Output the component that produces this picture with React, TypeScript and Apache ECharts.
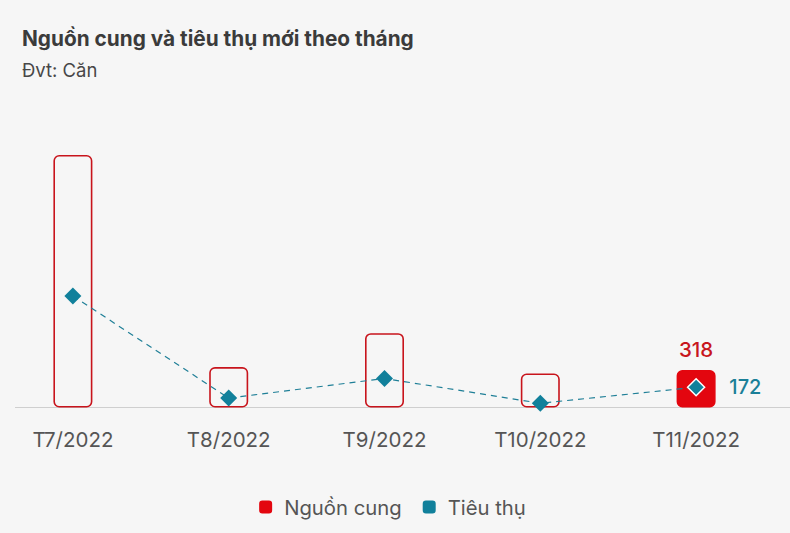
import React, { useEffect, useRef } from "react";
import * as echarts from "echarts";

const categories = ["T7/2022", "T8/2022", "T9/2022", "T10/2022", "T11/2022"];
const supply = [2140, 343, 630, 288, 318];
const sales = [945, 80, 246, 36, 172];

const RED = "#e3060f";
const RED_BORDER = "#c8141c";
const TEAL = "#11809b";
const BG = "#f6f6f6";
const FONT = "Inter, 'Noto Sans', sans-serif";
const SHIFT = 5;

export default function App() {
  const ref = useRef<HTMLDivElement>(null);
  useEffect(() => {
    document.body.style.margin = "0";
    document.body.style.background = BG;
    document.body.style.overflow = "hidden";
    if (!ref.current) return;
    const chart = echarts.init(ref.current, null, { renderer: "svg" });
    const last = categories.length - 1;
    chart.setOption({
      animation: false,
      backgroundColor: BG,
      textStyle: { fontFamily: FONT },
      title: {
        text: "Nguồn cung và tiêu thụ mới theo tháng",
        subtext: "Đvt: Căn",
        left: 17 + SHIFT,
        top: 23,
        itemGap: 11,
        textStyle: { fontSize: 20.8, fontWeight: "bold", color: "#3b3b3b", fontFamily: FONT },
        subtextStyle: { fontSize: 18.5, color: "#474747", fontFamily: FONT },
      },
      legend: {
        bottom: 11,
        left: "center",
        itemWidth: 13,
        itemHeight: 13,
        itemGap: 21,
        textStyle: { fontSize: 20.3, color: "#555", fontFamily: FONT, padding: [0, 0, 0, 7] },
        data: [
          { name: "Nguồn cung", icon: "roundRect", itemStyle: { color: RED, borderWidth: 0 } },
          { name: "Tiêu thụ", icon: "roundRect", itemStyle: { color: TEAL, borderWidth: 0 } },
        ],
      },
      grid: { left: 0, width: 779, top: 53.5, bottom: 125.5, containLabel: false },
      xAxis: {
        type: "category",
        data: categories,
        axisLine: { show: false },
        axisTick: { show: false },
        axisLabel: { fontSize: 20.5, color: "#555", margin: 21, fontFamily: FONT },
      },
      yAxis: { type: "value", min: 0, max: 3000, show: false, splitLine: { show: false } },
      graphic: [
        {
          type: "line",
          shape: { x1: 15 + SHIFT, y1: 407.5, x2: 790 + SHIFT, y2: 407.5 },
          style: { stroke: "#cfcfcf", lineWidth: 1.2 },
          z: 0,
        },
      ],
      series: [
        {
          name: "Nguồn cung",
          type: "bar",
          barWidth: 39,
          z: 2,
          data: supply.map((v, i) =>
            i === last
              ? {
                  value: v,
                  itemStyle: { color: RED, borderColor: RED, borderWidth: 1.5, borderRadius: 5 },
                  label: {
                    show: true,
                    position: "top",
                    distance: 10,
                    color: "#c8161d",
                    fontSize: 20.5,
                    fontWeight: 500,
                    fontFamily: FONT,
                  },
                }
              : {
                  value: v,
                  itemStyle: { color: "rgba(255,255,255,0)", borderColor: RED_BORDER, borderWidth: 1.6, borderRadius: 5 },
                }
          ),
        },
        {
          name: "Tiêu thụ",
          type: "line",
          z: 3,
          symbol: "diamond",
          symbolSize: 17,
          itemStyle: { color: TEAL },
          lineStyle: { color: "#1f7f97", width: 1.2, type: [6, 5] },
          data: sales.map((v, i) =>
            i === last
              ? {
                  value: v,
                  itemStyle: { color: TEAL, borderColor: "#ffffff", borderWidth: 1.5 },
                  label: {
                    show: true,
                    position: "right",
                    distance: 24,
                    color: "#1a7f98",
                    fontSize: 20,
                    fontWeight: 500,
                    fontFamily: FONT,
                  },
                }
              : v
          ),
        },
      ],
    });
    return () => chart.dispose();
  }, []);
  return (
    <div
      ref={ref}
      style={{ width: 790 + SHIFT, height: 533, marginLeft: -SHIFT }}
    />
  );
}
